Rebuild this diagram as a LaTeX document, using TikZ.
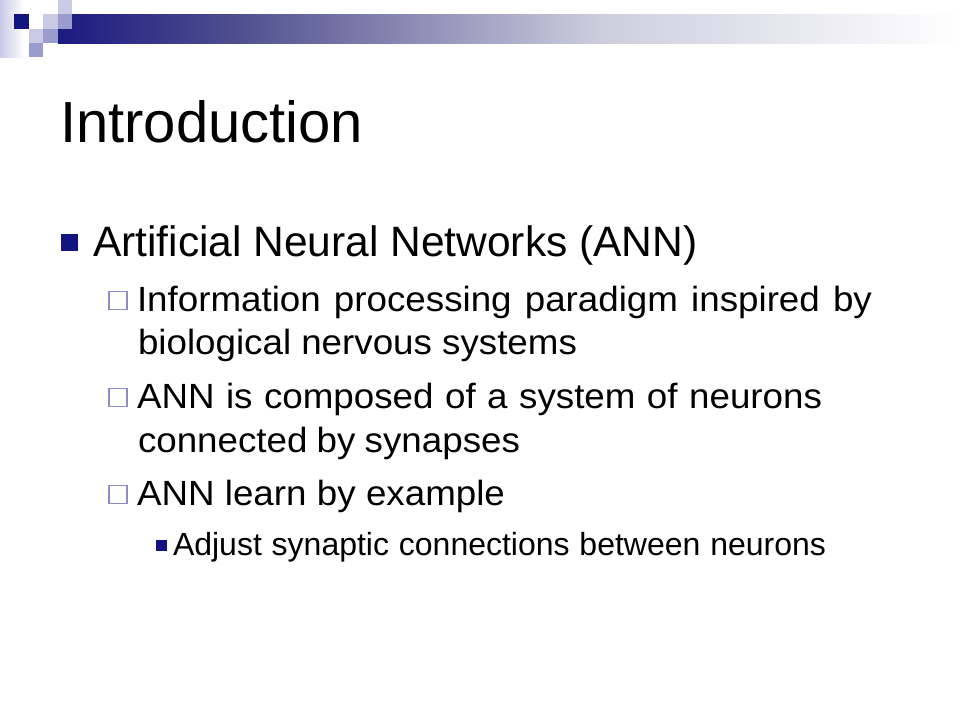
\documentclass[tikz,border=0pt]{standalone}
\usepackage{fontspec}
\setmainfont{Liberation Sans}
\newfontfamily\lvtwo[FakeStretch=1.05]{Liberation Sans}
\newfontfamily\lvthree{Liberation Sans}
\definecolor{slnavy}{RGB}{20,20,128}
\definecolor{decolight}{RGB}{200,202,230}
\definecolor{decomed}{RGB}{154,156,206}
\definecolor{barA}{RGB}{26,26,128}
\definecolor{barB}{RGB}{80,80,144}
\definecolor{barC}{RGB}{205,205,222}
\definecolor{hollowlav}{RGB}{140,140,198}
\begin{document}
\begin{tikzpicture}[x=1pt,y=-1pt,
  txt/.style={anchor=base west, inner sep=0pt, outer sep=0pt},
  sqnavy/.style={fill=slnavy, draw=none, inner sep=0pt, minimum size=#1},
  sqhollow/.style={draw=hollowlav, fill=white, line width=1.8pt, inner sep=0pt, minimum size=18pt}]
\fill[white] (0,0) rectangle (960,720);
\useasboundingbox (0,0) rectangle (960,720);
% --- top-left decoration ---
\shade[left color=decolight, right color=white] (0,0) rectangle (24,57);
\shade[left color=barA, right color=barB] (58,14) rectangle (240.5,43);
\shade[left color=barB, right color=barC] (240,14) rectangle (600.5,43);
\shade[left color=barC, right color=white] (600,14) rectangle (960,43);
\fill[slnavy] (14,14) rectangle (29,29);
\fill[decolight] (58,0) rectangle (72,14);
\fill[decolight] (43,14) rectangle (58,29);
\fill[decomed] (58,14) rectangle (72,29);
\fill[decolight] (29,29) rectangle (43,43);
\fill[decomed] (43,29) rectangle (58,43);
\fill[decomed] (29,43) rectangle (43,57);
% --- title ---
\node[txt] (title) at (60,142) {\fontsize{58}{60}\selectfont Introduction};
% --- level 1 ---
\node[sqnavy=17pt] (b1) at (69.5,242.5) {};
\node[txt] (l1) at (93,256) {\fontsize{42.5}{46}\selectfont Artificial Neural Networks (ANN)};
% --- level 2 ---
\node[sqhollow] (b2a) at (118,300.5) {};
\node[txt] (l2a) at (137,311) {\fontsize{35}{38}\lvtwo\makebox[735pt][s]{Information processing paradigm inspired by}};
\node[txt] (l2a2) at (138,354) {\fontsize{35}{38}\lvtwo\makebox[439pt][s]{biological nervous systems}};
\node[sqhollow] (b2b) at (118,397.5) {};
\node[txt] (l2b) at (137,408) {\fontsize{35}{38}\lvtwo\makebox[685pt][s]{ANN is composed of a system of neurons}};
\node[txt] (l2b2) at (138,452) {\fontsize{35}{38}\lvtwo\makebox[382pt][s]{connected by synapses}};
\node[sqhollow] (b2c) at (118,494.5) {};
\node[txt] (l2c) at (137,505) {\fontsize{35}{38}\lvtwo\makebox[368pt][s]{ANN learn by example}};
% --- level 3 ---
\node[sqnavy=11pt] (b3) at (161.5,545.5) {};
\node[txt] (l3) at (173,555) {\fontsize{32}{35}\lvthree\makebox[653pt][s]{Adjust synaptic connections between neurons}};
\end{tikzpicture}
\end{document}
